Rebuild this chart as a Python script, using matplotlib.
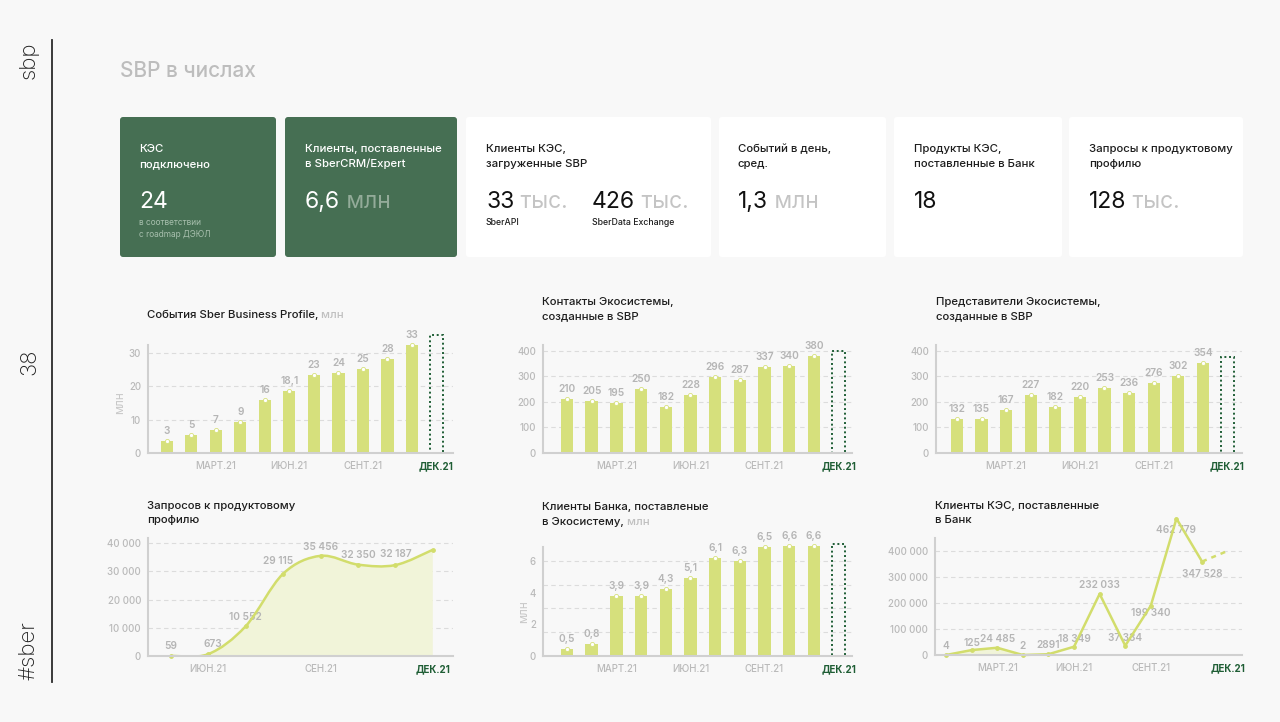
import numpy as np
import matplotlib
matplotlib.use("Agg")
import matplotlib.pyplot as plt
from matplotlib.patches import FancyBboxPatch, Rectangle, PathPatch
from matplotlib.path import Path

# ----------------------------------------------------
# Data
# ----------------------------------------------------

# bar charts: Jan..Nov 2021, Dec is a dotted placeholder
events_sbp = [3.7, 5.3, 7.0, 9.2, 15.9, 18.5, 23.2, 23.9, 25.1, 28.1, 32.3]
events_labels = ["3", "5", "7", "9", "16", "18,1", "23", "24", "25", "28", "33"]

eco_contacts = [210, 205, 195, 250, 182, 228, 296, 287, 337, 340, 380]
eco_contacts_labels = [str(v) for v in eco_contacts]

eco_reps = [132, 135, 167, 227, 182, 220, 253, 236, 276, 302, 354]
eco_reps_labels = [str(v) for v in eco_reps]

bank_clients = [0.45, 0.75, 3.8, 3.8, 4.2, 4.9, 6.2, 6.0, 6.9, 6.95, 6.95]
bank_clients_labels = ["0,5", "0,8", "3,9", "3,9", "4,3", "5,1", "6,1", "6,3", "6,5", "6,6", "6,6"]

# line chart: May..Dec 2021
profile_requests = [59, 673, 10552, 29115, 35456, 32350, 32187, 37600]
profile_requests_labels = ["59", "673", "10 552", "29 115", "35 456", "32 350", "32 187", ""]

# line chart: Jan..Dec 2021 (plotted heights as drawn, Dec is a projection)
kes_clients = [0, 19000, 28000, 0, 3000, 32000, 236000, 36000, 191000, 527000, 361000, 402000]
kes_clients_labels = ["4", "125", "24 485", "2", "2891", "18 349", "232 033",
                      "37 334", "199 340", "462 779", "347 528", ""]

bar_month_ticks = ["МАРТ.21", "ИЮН.21", "СЕНТ.21", "ДЕК.21"]
req_month_ticks = ["ИЮН.21", "СЕН.21", "ДЕК.21"]

# ----------------------------------------------------
# Style
# ----------------------------------------------------

W, H = 1280, 722
BG = "#f8f8f8"
CARD_GREEN = "#466f53"
BAR = "#d6e07c"
LINE = "#d2dd6c"
FILL = "#f1f4d9"
GREY = "#b5b5b5"
TICK = "#bababa"
SPINE = "#d0d0d0"
DARK = "#1f5e35"
TXT = "#1e1e1e"

plt.rcParams["font.family"] = ["Inter", "DejaVu Sans"]

fig = plt.figure(figsize=(W / 100, H / 100), dpi=100, facecolor=BG)

# full-figure canvas in pixel coordinates
bg = fig.add_axes([0, 0, 1, 1], zorder=0)
bg.set_xlim(0, W)
bg.set_ylim(H, 0)
bg.axis("off")
bg.set_facecolor(BG)


def px_rect(x0, y0, x1, y1):
    return [x0 / W, 1 - y1 / H, (x1 - x0) / W, (y1 - y0) / H]


def with_suffix(x, y, main, suffix, size, c_main, c_suffix, weight="normal"):
    t = bg.text(x, y, main, fontsize=size, color=c_main, va="baseline", fontweight=weight)
    bg.annotate(suffix, xy=(1, 0), xycoords=t, fontsize=size, color=c_suffix,
                va="bottom", ha="left", fontweight=weight)


# ----------------------------------------------------
# Left strip and page title
# ----------------------------------------------------

bg.plot([52, 52], [40, 682], color="#2a2a2a", lw=1.3)
for y, s in [(60, "sbp"), (362, "38"), (651, "#sber")]:
    bg.text(29, y, s, rotation=90, ha="center", va="center", fontsize=16,
            color="#222222", fontweight="light")

bg.text(120, 77, "SBP в числах", fontsize=15, color="#bdbdbd", va="baseline",
        fontweight="medium")

# ----------------------------------------------------
# KPI cards
# ----------------------------------------------------

cards = [
    (120, 276, CARD_GREEN),
    (285, 457, CARD_GREEN),
    (466, 711, "white"),
    (719, 886, "white"),
    (894, 1062, "white"),
    (1069, 1243, "white"),
]
for x0, x1, col in cards:
    bg.add_patch(FancyBboxPatch((x0, 117), x1 - x0, 140,
                                boxstyle="round,pad=0,rounding_size=3",
                                fc=col, ec="none"))

TS = 8.2
NS = 16.5
TW = "medium"
bg.text(139, 152, "КЭС", fontsize=TS, color="white", va="baseline", fontweight=TW)
bg.text(139, 167, "подключено", fontsize=TS, color="white", va="baseline", fontweight=TW)
bg.text(139, 208, "24", fontsize=NS, color="white", va="baseline")
bg.text(139, 225, "в соответствии", fontsize=6, color="#a8c0ae", va="baseline")
bg.text(139, 237, "с roadmap ДЭЮЛ", fontsize=6, color="#a8c0ae", va="baseline")

bg.text(305, 152, "Клиенты, поставленные", fontsize=TS, color="white", va="baseline", fontweight=TW)
bg.text(305, 167, "в SberCRM/Expert", fontsize=TS, color="white", va="baseline", fontweight=TW)
with_suffix(305, 208, "6,6", " млн", NS, "white", "#93ab99")

bg.text(486, 152, "Клиенты КЭС,", fontsize=TS, color=TXT, va="baseline", fontweight=TW)
bg.text(486, 167, "загруженные SBP", fontsize=TS, color=TXT, va="baseline", fontweight=TW)
with_suffix(486, 208, "33", " тыс.", NS, "#111111", "#c4c4c4")
with_suffix(592, 208, "426", " тыс.", NS, "#111111", "#c4c4c4")
bg.text(486, 225, "SberAPI", fontsize=6.3, color=TXT, va="baseline", fontweight=TW)
bg.text(592, 225, "SberData Exchange", fontsize=6.3, color=TXT, va="baseline", fontweight=TW)

bg.text(738, 152, "Событий в день,", fontsize=TS, color=TXT, va="baseline", fontweight=TW)
bg.text(738, 167, "сред.", fontsize=TS, color=TXT, va="baseline", fontweight=TW)
with_suffix(738, 208, "1,3", " млн", NS, "#111111", "#c4c4c4")

bg.text(914, 152, "Продукты КЭС,", fontsize=TS, color=TXT, va="baseline", fontweight=TW)
bg.text(914, 167, "поставленные в Банк", fontsize=TS, color=TXT, va="baseline", fontweight=TW)
bg.text(914, 208, "18", fontsize=NS, color="#111111", va="baseline")

bg.text(1089, 152, "Запросы к продуктовому", fontsize=TS, color=TXT, va="baseline", fontweight=TW)
bg.text(1089, 167, "профилю", fontsize=TS, color=TXT, va="baseline", fontweight=TW)
with_suffix(1089, 208, "128", " тыс.", NS, "#111111", "#c4c4c4")

# ----------------------------------------------------
# Chart titles
# ----------------------------------------------------

CS = 8.2
with_suffix(147, 318, "События Sber Business Profile,", " млн", CS, TXT, "#c0c0c0", TW)
bg.text(542, 305, "Контакты Экосистемы,", fontsize=CS, color=TXT, va="baseline", fontweight=TW)
bg.text(542, 319, "созданные в SBP", fontsize=CS, color=TXT, va="baseline", fontweight=TW)
bg.text(936, 305, "Представители Экосистемы,", fontsize=CS, color=TXT, va="baseline", fontweight=TW)
bg.text(936, 319, "созданные в SBP", fontsize=CS, color=TXT, va="baseline", fontweight=TW)
bg.text(147, 509, "Запросов к продуктовому", fontsize=CS, color=TXT, va="baseline", fontweight=TW)
bg.text(147, 523, "профилю", fontsize=CS, color=TXT, va="baseline", fontweight=TW)
bg.text(542, 510, "Клиенты Банка, поставленые", fontsize=CS, color=TXT, va="baseline", fontweight=TW)
with_suffix(542, 525, "в Экосистему,", " млн", CS, TXT, "#c0c0c0", TW)
bg.text(935, 509, "Клиенты КЭС, поставленные", fontsize=CS, color=TXT, va="baseline", fontweight=TW)
bg.text(935, 523, "в Банк", fontsize=CS, color=TXT, va="baseline", fontweight=TW)

bg.text(120, 403, "млн", rotation=90, ha="center", va="center", fontsize=8.5, color="#c8c8c8")
bg.text(524, 612, "млн", rotation=90, ha="center", va="center", fontsize=8.5, color="#c8c8c8")

# ----------------------------------------------------
# Helpers for the small charts
# ----------------------------------------------------


def style_axes(ax, yticks, ytick_labels, grid, xticks, xtick_labels):
    ax.set_facecolor("none")
    for side in ["top", "right"]:
        ax.spines[side].set_visible(False)
    for side in ["left", "bottom"]:
        ax.spines[side].set_color(SPINE)
        ax.spines[side].set_linewidth(1.5)
        ax.spines[side].set_zorder(5)
    ax.set_yticks(yticks)
    ax.set_yticklabels(ytick_labels)
    for g in grid:
        ax.axhline(g, color="#dcdcdc", lw=0.8, ls=(0, (4, 3)), zorder=0.5)
    ax.set_xticks(xticks)
    ax.set_xticklabels(xtick_labels)
    ax.tick_params(axis="both", which="both", length=0, colors=TICK, labelsize=7)
    ax.tick_params(axis="y", pad=5)
    ax.tick_params(axis="x", pad=6)
    for lab in ax.get_xticklabels() + ax.get_yticklabels():
        lab.set_fontweight("medium")
    last = ax.get_xticklabels()[-1]
    last.set_color(DARK)
    last.set_fontweight("bold")


def bar_panel(rect, xlim, values, labels, ylim, yticks, grid, box_h):
    ax = fig.add_axes(px_rect(*rect), zorder=2)
    x = np.arange(len(values))
    ax.bar(x, values, width=0.5, color=BAR, zorder=2, clip_on=False)
    ax.scatter(x, values, s=9, color="white", edgecolor=BAR, lw=0.6, zorder=3, clip_on=False)
    for xi, v, lab in zip(x, values, labels):
        ax.annotate(lab, (xi, v), xytext=(0, 10), textcoords="offset pixels",
                    ha="center", va="center", color=GREY, fontsize=7.3,
                    fontweight="semibold", annotation_clip=False)
    ax.add_patch(Rectangle((len(values) - 0.25, 0), 0.5, box_h, fill=False, ec=DARK,
                           lw=1.4, ls=(0, (1, 1.4)), clip_on=False, zorder=2))
    ax.set_xlim(*xlim)
    ax.set_ylim(*ylim)
    style_axes(ax, yticks, [str(t) for t in yticks], grid, [2, 5, 8, 11], bar_month_ticks)
    return ax


def smooth_path(xs, ys):
    pts = np.column_stack([xs, ys]).astype(float)
    n = len(pts)
    verts = [pts[0]]
    codes = [Path.MOVETO]
    for i in range(n - 1):
        p0 = pts[max(i - 1, 0)]
        p1 = pts[i]
        p2 = pts[i + 1]
        p3 = pts[min(i + 2, n - 1)]
        verts += [p1 + (p2 - p0) / 6, p2 - (p3 - p1) / 6, p2]
        codes += [Path.CURVE4] * 3
    return verts, codes


def spaced(v):
    return f"{v:,}".replace(",", " ")


# ----------------------------------------------------
# Bar charts
# ----------------------------------------------------

bar_panel((148, 345, 453, 453), (-0.76, 11.67), events_sbp, events_labels,
          (0, 32.3), [0, 10, 20, 30], [10, 20, 30], 35.4)
bar_panel((543, 345, 852, 453), (-0.97, 11.54), eco_contacts, eco_contacts_labels,
          (0, 423), [0, 100, 200, 300, 400], [100, 200, 300, 400], 400)
bar_panel((936, 345, 1242, 453), (-0.85, 11.59), eco_reps, eco_reps_labels,
          (0, 423), [0, 100, 200, 300, 400], [100, 200, 300, 400], 375)
bar_panel((543, 547, 852, 656), (-0.97, 11.54), bank_clients, bank_clients_labels,
          (0, 6.88), [0, 2, 4, 6], [1.5, 3, 4.5, 6], 7.05)

# ----------------------------------------------------
# Smooth area chart: product profile requests
# ----------------------------------------------------

ax4 = fig.add_axes(px_rect(148, 538, 453, 656), zorder=2)
xr = np.arange(len(profile_requests))
verts, codes = smooth_path(xr, profile_requests)
fill_verts = verts + [(xr[-1], 0), (xr[0], 0), (xr[0], 0)]
fill_codes = codes + [Path.LINETO, Path.LINETO, Path.CLOSEPOLY]
ax4.add_patch(PathPatch(Path(fill_verts, fill_codes), fc=FILL, ec="none", zorder=1))
ax4.add_patch(PathPatch(Path(verts, codes), fill=False, ec=LINE, lw=1.8, zorder=3))
ax4.scatter(xr, profile_requests, s=6, color=LINE, zorder=4, clip_on=False)
req_offsets = [(0, 10), (5, 10), (0, 9), (-5, 13), (0, 9), (0, 10), (0, 11), (0, 0)]
for xi, v, lab, off in zip(xr, profile_requests, profile_requests_labels, req_offsets):
    if lab:
        ax4.annotate(lab, (xi, v), xytext=off, textcoords="offset pixels",
                     ha="center", va="center", color=GREY, fontsize=7.3,
                     fontweight="semibold", annotation_clip=False, zorder=2)
ax4.set_xlim(-0.61, 7.54)
ax4.set_ylim(0, 41770)
ticks4 = [0, 10000, 20000, 30000, 40000]
style_axes(ax4, ticks4, [spaced(t) for t in ticks4], ticks4[1:], [1, 4, 7], req_month_ticks)

# ----------------------------------------------------
# Line chart: KES clients delivered to the bank
# ----------------------------------------------------

ax6 = fig.add_axes(px_rect(935, 538, 1242, 655), zorder=2)
xk = np.arange(len(kes_clients))
ax6.fill_between(xk[:5], kes_clients[:5], color=FILL, zorder=1, lw=0)
ax6.plot(xk[:-1], kes_clients[:-1], color=LINE, lw=1.8, zorder=3, clip_on=False)
ax6.plot(xk[-2:], kes_clients[-2:], color=LINE, lw=1.8, ls=(0, (2, 2)), zorder=3)
ax6.scatter(xk[:-1], kes_clients[:-1], s=6, color=LINE, zorder=4, clip_on=False)
kes_offsets = [(0, 9), (0, 7), (0, 9), (0, 9), (0, 9), (0, 8), (0, 9),
               (0, 8), (0, -7), (0, -11), (0, -12), (0, 0)]
for xi, v, lab, off in zip(xk, kes_clients, kes_clients_labels, kes_offsets):
    if lab:
        ax6.annotate(lab, (xi, v), xytext=off, textcoords="offset pixels",
                     ha="center", va="center", color=GREY, fontsize=7.3,
                     fontweight="semibold", annotation_clip=False, zorder=2)
ax6.set_xlim(-0.43, 11.56)
ax6.set_ylim(0, 452000)
ticks6 = [0, 100000, 200000, 300000, 400000]
style_axes(ax6, ticks6, [spaced(t) for t in ticks6], ticks6[1:], [2, 5, 8, 11], bar_month_ticks)

fig.savefig("out.png", dpi=100, facecolor=BG)
